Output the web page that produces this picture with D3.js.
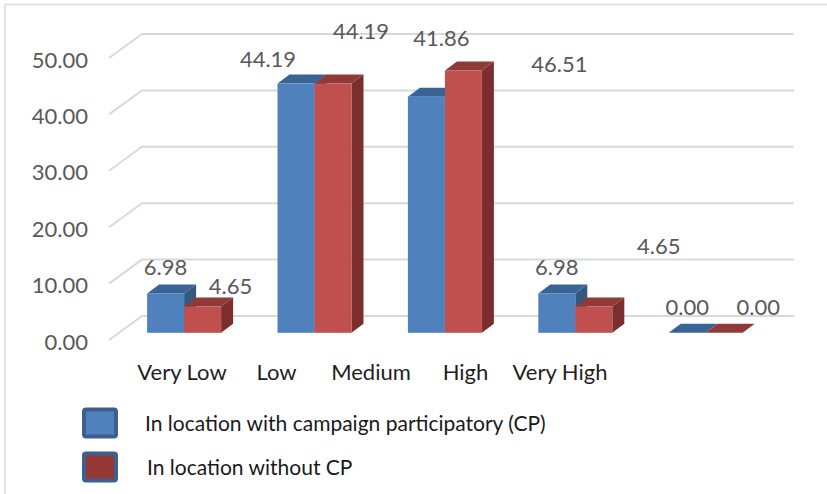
<!DOCTYPE html>
<html>
<head>
<meta charset="utf-8">
<script src="https://cdn.jsdelivr.net/npm/d3@7"></script>
<style>
  html, body { margin: 0; padding: 0; background: #fff; }
  svg { display: block; font-family: "Lato", "Liberation Sans", sans-serif; }
</style>
</head>
<body>
<svg id="chart" width="827" height="494"></svg>
<script>
// Ratings per location type (percent of respondents)
const categories = ["Very Low", "Low", "Medium", "High", "Very High"];
const seriesNames = ["In location with campaign participatory (CP)", "In location without CP"];
const withCP = [6.98, 44.19, 41.86, 6.98, 0.00];
const withoutCP = [4.65, 44.19, 46.51, 4.65, 0.00];
const yTicks = [0, 10, 20, 30, 40, 50];

// Where each value label sits relative to the top centre of its bar
const labelShiftCP = [[0, -27], [-28, -25], [15, -59], [0, -27], [0, -26]];
const labelShiftNoCP = [[28, -21], [28, -53], [96, -7], [65, -61], [34, -26]];

const svg = d3.select("#chart");

const series = [
  { name: seriesNames[0], values: withCP, shift: labelShiftCP,
    front: "#4f81bd", top: "#3b6496", side: "#35587f", legend: "#4f81bd" },
  { name: seriesNames[1], values: withoutCP, shift: labelShiftNoCP,
    front: "#c0504d", top: "#8f3a38", side: "#7b2e2d", legend: "#953735" }
];

// 3-D geometry: back wall, front edge of the floor, and the plane the bars stand in
const wall = { left: 142, right: 794 };
const depth = { dx: 33, dy: -24 };      // front -> back wall
const barPlane = 0.7;                   // how far forward the bars stand (fraction of depth)
const barDepth = { dx: 12, dy: -9 };    // thickness of each bar

const yBack = d3.scaleLinear().domain([0, 50]).range([316, 34]);
const planeDx = -depth.dx * barPlane, planeDy = -depth.dy * barPlane;
const yBar = v => yBack(v) + planeDy;

const x0 = d3.scaleBand()
  .domain(categories)
  .range([wall.left + planeDx, wall.right + planeDx])
  .paddingInner(0.4325)
  .paddingOuter(0.4325 / 2);
const x1 = d3.scaleBand().domain([0, 1]).range([0, x0.bandwidth()]);

// Frame lines (top and left)
svg.append("line").attr("x1", 4).attr("x2", 827).attr("y1", 4.5).attr("y2", 4.5)
  .attr("stroke", "#e3e3e3").attr("stroke-width", 2);
svg.append("line").attr("x1", 5).attr("x2", 5).attr("y1", 4).attr("y2", 494)
  .attr("stroke", "#e3e3e3").attr("stroke-width", 2);

// Gridlines on the back wall with slanted side-wall segments
const grid = svg.append("g").attr("stroke", "#d9d9d9").attr("stroke-width", 2).attr("fill", "none");
grid.selectAll("path").data(yTicks).join("path")
  .attr("d", t => {
    const yb = yBack(t);
    return `M${wall.left - depth.dx},${yb - depth.dy} L${wall.left},${yb} L${wall.right},${yb}`;
  });

// Y tick labels along the front edge
svg.append("g").selectAll("text").data(yTicks).join("text")
  .attr("x", 88)
  .attr("y", t => yBack(t) - depth.dy + 1)
  .attr("text-anchor", "end")
  .attr("dominant-baseline", "central")
  .attr("fill", "#595959")
  .attr("font-size", 22)
  .text(t => d3.format(".2f")(t));

// Bars (blue drawn first so the red bar hides its side)
const bars = svg.append("g");
series.forEach((s, si) => {
  const g = bars.append("g");
  categories.forEach((c, ci) => {
    const v = s.values[ci];
    const xl = x0(c) + x1(si), xr = xl + x1.bandwidth();
    const yt = yBar(v), yb = yBar(0);
    const dx = barDepth.dx, dy = barDepth.dy;
    if (v > 0) {
      g.append("path").attr("fill", s.side)
        .attr("d", `M${xr},${yb} L${xr + dx},${yb + dy} L${xr + dx},${yt + dy} L${xr},${yt} Z`);
    }
    g.append("path").attr("fill", s.top)
      .attr("d", `M${xl},${yt} L${xl + dx},${yt + dy} L${xr + dx},${yt + dy} L${xr},${yt} Z`);
    if (v > 0) {
      g.append("rect").attr("fill", s.front)
        .attr("x", xl).attr("y", yt).attr("width", xr - xl).attr("height", yb - yt);
    }
  });
});

// Value labels
const fmt = d3.format(".2f");
series.forEach((s, si) => {
  svg.append("g").selectAll("text").data(categories).join("text")
    .attr("x", (c, ci) => x0(c) + x1(si) + x1.bandwidth() / 2 + s.shift[ci][0])
    .attr("y", (c, ci) => yBar(s.values[ci]) + s.shift[ci][1])
    .attr("text-anchor", "middle")
    .attr("dominant-baseline", "central")
    .attr("fill", "#595959")
    .attr("font-size", 22)
    .text((c, ci) => fmt(s.values[ci]));
});

// Category labels
const xLabel = d3.scalePoint().domain(categories).range([182, 560]);
svg.append("g").selectAll("text").data(categories).join("text")
  .attr("x", c => xLabel(c))
  .attr("y", 371)
  .attr("text-anchor", "middle")
  .attr("dominant-baseline", "central")
  .attr("fill", "#1f1f1f")
  .attr("font-size", 22)
  .text(c => c);

// Legend
const legend = svg.append("g");
const legendY = d3.scalePoint().domain(seriesNames).range([423, 467]);
series.forEach((s, i) => {
  const cy = legendY(s.name);
  legend.append("rect")
    .attr("x", 84).attr("y", cy - 13.5).attr("width", 32).attr("height", 27)
    .attr("rx", 2)
    .attr("fill", s.legend).attr("stroke", "#3d5f8d").attr("stroke-width", 4);
  legend.append("text")
    .attr("x", 145 + i * 2).attr("y", cy - 1)
    .attr("dominant-baseline", "central")
    .attr("fill", "#1a1a1a")
    .attr("font-size", 21)
    .text(s.name);
});
</script>
</body>
</html>
